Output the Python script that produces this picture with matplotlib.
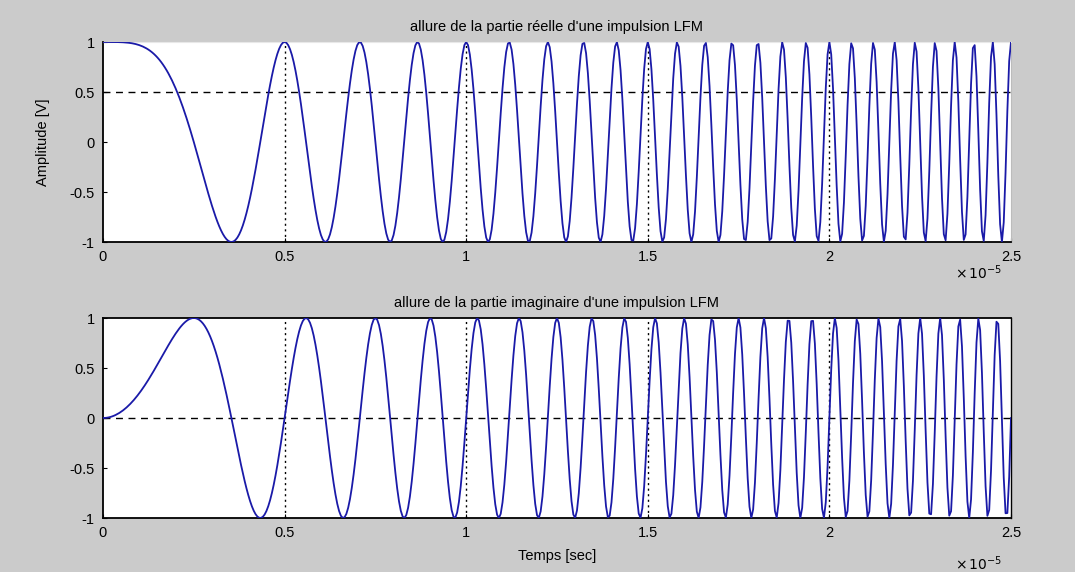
import numpy as np
import matplotlib.pyplot as plt

# impulsion LFM : largeur, excursion de fréquence, fréquence d'échantillonnage
pulse_width = 25e-6      # s
bandwidth = 2e6          # Hz
sample_rate = 20e6       # Hz

x_ticks = [0, 0.5, 1, 1.5, 2, 2.5]
x_tick_labels = ['0', '0.5', '1', '1.5', '2', '2.5']
y_ticks = [-1, -0.5, 0, 0.5, 1]
y_tick_labels = ['-1', '-0.5', '0', '0.5', '1']

titles = ["allure de la partie réelle d'une impulsion LFM",
          "allure de la partie imaginaire d'une impulsion LFM"]
ref_levels = [0.5, 0.0]     # ligne horizontale de repère sur chaque tracé
grid_x = [0.5, 1, 1.5, 2]

slope = bandwidth / pulse_width
t = np.arange(0, pulse_width, 1 / sample_rate)
s = np.exp(1j * np.pi * slope * t ** 2)
parts = [s.real, s.imag]

plt.rcParams.update({
    'font.family': ['Liberation Sans', 'DejaVu Sans'],
    'font.size': 10,
})

fig = plt.figure(figsize=(10.75, 5.72), dpi=100, facecolor='#cbcbcb')
W, H = 1075, 572
boxes = [(103, 42, 1011, 242), (103, 318, 1011, 518)]
line_col = '#1a1aa8'

for i, (x0, y0, x1, y1) in enumerate(boxes):
    ax = fig.add_axes([x0 / W, 1 - y1 / H, (x1 - x0) / W, (y1 - y0) / H])
    ax.set_facecolor('white')
    ax.plot(t * 1e5, parts[i], color=line_col, lw=1.3, zorder=3)
    for gx in grid_x:
        ax.axvline(gx, color='black', ls=(0, (1.5, 2.5)), lw=1.0, zorder=2)
    ax.axhline(ref_levels[i], color='black', ls=(0, (5, 4)), lw=1.0, zorder=2)
    ax.set_xlim(0, 2.5)
    ax.set_ylim(-1, 1)
    ax.set_xticks(x_ticks)
    ax.set_xticklabels(x_tick_labels)
    ax.set_yticks(y_ticks)
    ax.set_yticklabels(y_tick_labels)
    ax.tick_params(direction='in', length=3, width=0.8, pad=6, labelsize=10.5)
    ax.set_title(titles[i], fontsize=10.5, pad=8)
    for side in ['left', 'bottom']:
        ax.spines[side].set_linewidth(1.3)
    if i == 0:
        ax.spines['top'].set_color('#e8e8e8')
        ax.spines['right'].set_color('#bcbcbc')
        ax.set_ylabel('Amplitude [V]', fontsize=10.5, labelpad=14)
    else:
        ax.spines['top'].set_linewidth(1.3)
        ax.spines['right'].set_linewidth(1.0)
        ax.set_xlabel('Temps [sec]', fontsize=10.5, labelpad=6)

# facteur d'échelle de l'axe des temps
for yp in [273, 564]:
    fig.text(955 / W, 1 - yp / H, r'$\times\,10^{-5}$', fontsize=10, ha='left', va='center')

fig.savefig('out.png', dpi=100, facecolor=fig.get_facecolor())
